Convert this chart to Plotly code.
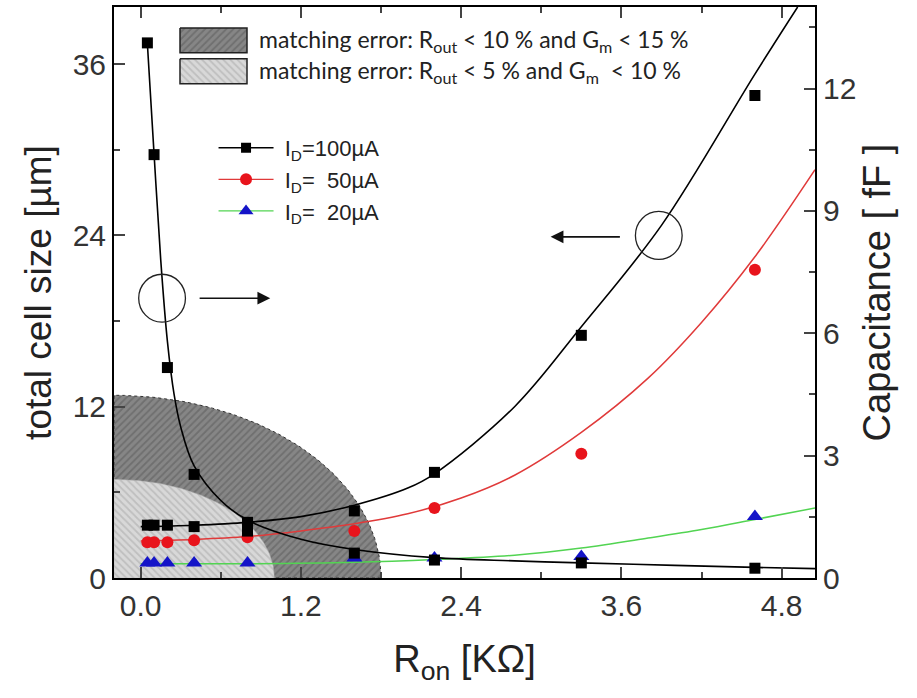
import numpy as np
import plotly.graph_objects as go

# ---------------- data ----------------
r_on = [0.05, 0.1, 0.2, 0.4, 0.8, 1.6, 2.2, 3.3, 4.6]          # KOhm
size_100uA = [3.7, 3.7, 3.7, 3.6, 3.9, 4.7, 7.4, 17.0, 33.8]    # um
size_50uA = [2.5, 2.5, 2.5, 2.65, 2.85, 3.3, 4.9, 8.7, 21.6]    # um
size_20uA = [1.05, 1.05, 1.05, 1.05, 1.05, 1.4, 1.4, 1.5, 4.3]  # um
capacitance = [13.12, 10.38, 5.16, 2.54, 1.15, 0.61, 0.44, 0.37, 0.24]  # fF

fit100_x = [0.0, 0.4, 0.8, 1.2, 1.6, 2.0, 2.2, 2.8, 3.3, 3.9, 4.6, 4.92]
fit100_y = [3.6, 3.7, 3.9, 4.3, 5.1, 6.3, 7.3, 12.0, 17.6, 24.7, 35.3, 40.0]
fit50_x = [0.0, 0.4, 0.8, 1.2, 1.6, 2.0, 2.4, 2.8, 3.3, 3.8, 4.2, 4.6, 5.05]
fit50_y = [2.6, 2.7, 2.9, 3.3, 3.8, 4.5, 5.6, 7.2, 10.2, 14.0, 17.9, 22.5, 28.6]
fit20_x = [0.0, 0.8, 1.6, 2.2, 2.8, 3.3, 3.8, 4.2, 4.6, 5.05]
fit20_y = [1.0, 1.0, 1.1, 1.3, 1.6, 2.1, 2.8, 3.4, 4.1, 4.9]
fitcap_x = [0.05, 0.1, 0.15, 0.2, 0.25, 0.3, 0.4, 0.6, 0.8, 1.2, 1.6, 2.2, 2.8, 3.3, 4.0, 4.6, 5.05]
fitcap_y = [13.1, 10.4, 7.8, 5.8, 4.5, 3.7, 2.75, 1.9, 1.42, 0.95, 0.7, 0.5, 0.42, 0.37, 0.31, 0.26, 0.23]

# matching-error regions: quarter ellipses from the lower-left corner
region_origin = (-0.2, 0.0)
region15_extent = (2.0, 12.8)   # (R_on span, cell-size span)
region10_extent = (1.2, 6.9)

legend_regions = [
    "matching error: R<sub>out</sub> &lt; 10 % and G<sub>m</sub> &lt; 15 %",
    "matching error: R<sub>out</sub> &lt; 5 % and G<sub>m</sub>  &lt; 10 %",
]

XRANGE = [-0.2, 5.05]
Y1RANGE = [0, 40]
Y2RANGE = [0, 14]

BLACK = "#000000"
RED = "#e8141c"
BLUE = "#1414c8"
GREEN = "#52d452"
REDLINE = "#e03a3a"

fig = go.Figure()


def quarter(origin, ext, n=80):
    t = np.linspace(0, np.pi / 2, n)
    xs = origin[0] + ext[0] * np.cos(t)
    ys = origin[1] + ext[1] * np.sin(t)
    xs = np.concatenate([[origin[0]], xs, [origin[0]]])
    ys = np.concatenate([[origin[1]], ys, [origin[1]]])
    return xs, ys


DARK_PAT = dict(shape="/", bgcolor="#868686", fgcolor="#575757", size=5, solidity=0.35)
LIGHT_PAT = dict(shape="\\", bgcolor="#d8d8d8", fgcolor="#a5a5a5", size=5, solidity=0.35)

xd, yd = quarter(region_origin, region15_extent)
fig.add_trace(go.Scatter(
    x=xd, y=yd, mode="lines", fill="toself", fillcolor="#868686", fillpattern=DARK_PAT,
    line=dict(color="#333333", width=1, dash="dot"),
    showlegend=False, hoverinfo="skip"))
xl, yl = quarter(region_origin, region10_extent)
fig.add_trace(go.Scatter(
    x=xl, y=yl, mode="lines", fill="toself", fillcolor="#d8d8d8", fillpattern=LIGHT_PAT,
    line=dict(color="#bbbbbb", width=0.5),
    showlegend=False, hoverinfo="skip"))

# fitted curves
fig.add_trace(go.Scatter(x=fit20_x, y=fit20_y, mode="lines", line=dict(color=GREEN, width=1.5, shape="spline"),
                         showlegend=False, hoverinfo="skip"))
fig.add_trace(go.Scatter(x=fit50_x, y=fit50_y, mode="lines", line=dict(color=REDLINE, width=1.5, shape="spline"),
                         showlegend=False, hoverinfo="skip"))
fig.add_trace(go.Scatter(x=fit100_x, y=fit100_y, mode="lines", line=dict(color=BLACK, width=1.6, shape="spline"),
                         showlegend=False, hoverinfo="skip"))
fig.add_trace(go.Scatter(x=fitcap_x, y=fitcap_y, mode="lines", yaxis="y2",
                         line=dict(color=BLACK, width=1.6, shape="spline"),
                         showlegend=False, hoverinfo="skip"))

# data points
fig.add_trace(go.Scatter(x=r_on, y=size_20uA, mode="markers",
                         marker=dict(symbol="triangle-up", size=14, color=BLUE), showlegend=False))
fig.add_trace(go.Scatter(x=r_on, y=size_50uA, mode="markers",
                         marker=dict(symbol="circle", size=12, color=RED), showlegend=False))
fig.add_trace(go.Scatter(x=r_on, y=size_100uA, mode="markers",
                         marker=dict(symbol="square", size=11, color=BLACK), showlegend=False))
fig.add_trace(go.Scatter(x=r_on, y=capacitance, mode="markers", yaxis="y2",
                         marker=dict(symbol="square", size=11, color=BLACK), showlegend=False))

# legend entries
NB = "\u00a0"
fig.add_trace(go.Scatter(x=[None], y=[None], mode="lines+markers", name=f"{NB}I<sub>D</sub>=100µA",
                         line=dict(color=BLACK, width=1.5), marker=dict(symbol="square", size=10, color=BLACK)))
fig.add_trace(go.Scatter(x=[None], y=[None], mode="lines+markers", name=f"{NB}I<sub>D</sub>={NB}{NB}50µA",
                         line=dict(color=REDLINE, width=1.2), marker=dict(symbol="circle", size=12, color=RED)))
fig.add_trace(go.Scatter(x=[None], y=[None], mode="lines+markers", name=f"{NB}I<sub>D</sub>={NB}{NB}20µA",
                         line=dict(color=GREEN, width=1.2), marker=dict(symbol="triangle-up", size=13, color=BLUE)))

# legend boxes for the regions (overlay axes in pixel-like units)
box_x = [180, 247]
box_rows = [(26, 51), (57, 82)]
for (y0, y1), st in zip(box_rows, [DARK_PAT, LIGHT_PAT]):
    fig.add_trace(go.Scatter(
        x=[box_x[0], box_x[1], box_x[1], box_x[0], box_x[0]], y=[y0, y0, y1, y1, y0],
        xaxis="x3", yaxis="y3", mode="lines", fill="toself", fillcolor=st["bgcolor"],
        fillpattern=st, line=dict(color="#222222", width=1.5), showlegend=False, hoverinfo="skip"))
for (y0, y1), txt in zip(box_rows, legend_regions):
    fig.add_annotation(x=box_x[1] + 10, y=(y0 + y1) / 2, xref="x3", yref="y3", text=txt,
                       showarrow=False, xanchor="left", yanchor="middle",
                       font=dict(family="Lato", size=23, color="#222222"))

# circles and arrows
fig.add_shape(type="circle", xref="x", yref="y", x0=0.16 - 0.175, x1=0.16 + 0.175,
              y0=19.6 - 1.68, y1=19.6 + 1.68, line=dict(color="#222222", width=1.3))
fig.add_shape(type="circle", xref="x", yref="y", x0=3.88 - 0.175, x1=3.88 + 0.175,
              y0=24.0 - 1.68, y1=24.0 + 1.68, line=dict(color="#222222", width=1.3))
fig.add_annotation(x=0.97, y=19.6, ax=0.43, ay=19.6, xref="x", yref="y", axref="x", ayref="y",
                   showarrow=True, arrowhead=2, arrowsize=1.6, arrowwidth=1.6, arrowcolor="#111111", text="")
fig.add_annotation(x=3.07, y=23.9, ax=3.6, ay=23.9, xref="x", yref="y", axref="x", ayref="y",
                   showarrow=True, arrowhead=2, arrowsize=1.6, arrowwidth=1.6, arrowcolor="#111111", text="")

TICKFONT = dict(family="Liberation Sans", size=30, color="#333333")

fig.update_layout(
    width=917, height=698,
    margin=dict(l=114, r=102, t=5, b=120),
    paper_bgcolor="white", plot_bgcolor="white",
    xaxis=dict(range=XRANGE, tick0=0, dtick=1.2, tickformat=".1f", ticks="inside", ticklen=11, tickwidth=1.5,
               showline=True, linecolor="black", linewidth=2, mirror="ticks", showgrid=False, zeroline=False,
               tickfont=TICKFONT,
               title=dict(text="R<sub>on</sub> [KΩ]", font=dict(family="Liberation Sans", size=38, color="#222222"),
                          standoff=24),
               minor=dict(dtick=0.6, ticks="inside", ticklen=6, tickwidth=1.5, showgrid=False)),
    yaxis=dict(range=Y1RANGE, tick0=0, dtick=12, ticks="inside", ticklen=11, tickwidth=1.5,
               showline=True, linecolor="black", linewidth=2, showgrid=False, zeroline=False,
               tickfont=TICKFONT,
               title=dict(text="total cell size [µm]", font=dict(family="Liberation Sans", size=37, color="#222222"),
                          standoff=10),
               minor=dict(dtick=6, ticks="inside", ticklen=6, tickwidth=1.5, showgrid=False)),
    yaxis2=dict(range=Y2RANGE, tick0=0, dtick=3, ticks="inside", ticklen=11, tickwidth=1.5,
                overlaying="y", side="right", anchor="x",
                showline=True, linecolor="black", linewidth=2, showgrid=False, zeroline=False,
                tickfont=TICKFONT,
                title=dict(text="Capacitance [ fF ]", font=dict(family="Liberation Sans", size=38, color="#222222"),
                           standoff=8),
                minor=dict(dtick=1.5, ticks="inside", ticklen=6, tickwidth=1.5, showgrid=False)),
    xaxis3=dict(range=[114, 815], overlaying="x", anchor="y3", visible=False, fixedrange=True),
    yaxis3=dict(range=[578, 5], overlaying="y", anchor="x3", visible=False, fixedrange=True),
    legend=dict(x=0.142, y=0.79, xanchor="left", yanchor="top", bgcolor="rgba(0,0,0,0)",
                font=dict(family="Liberation Sans", size=22, color="#222222"), itemwidth=55,
                tracegroupgap=0),
    showlegend=True,
)

fig.write_html("out.html")
